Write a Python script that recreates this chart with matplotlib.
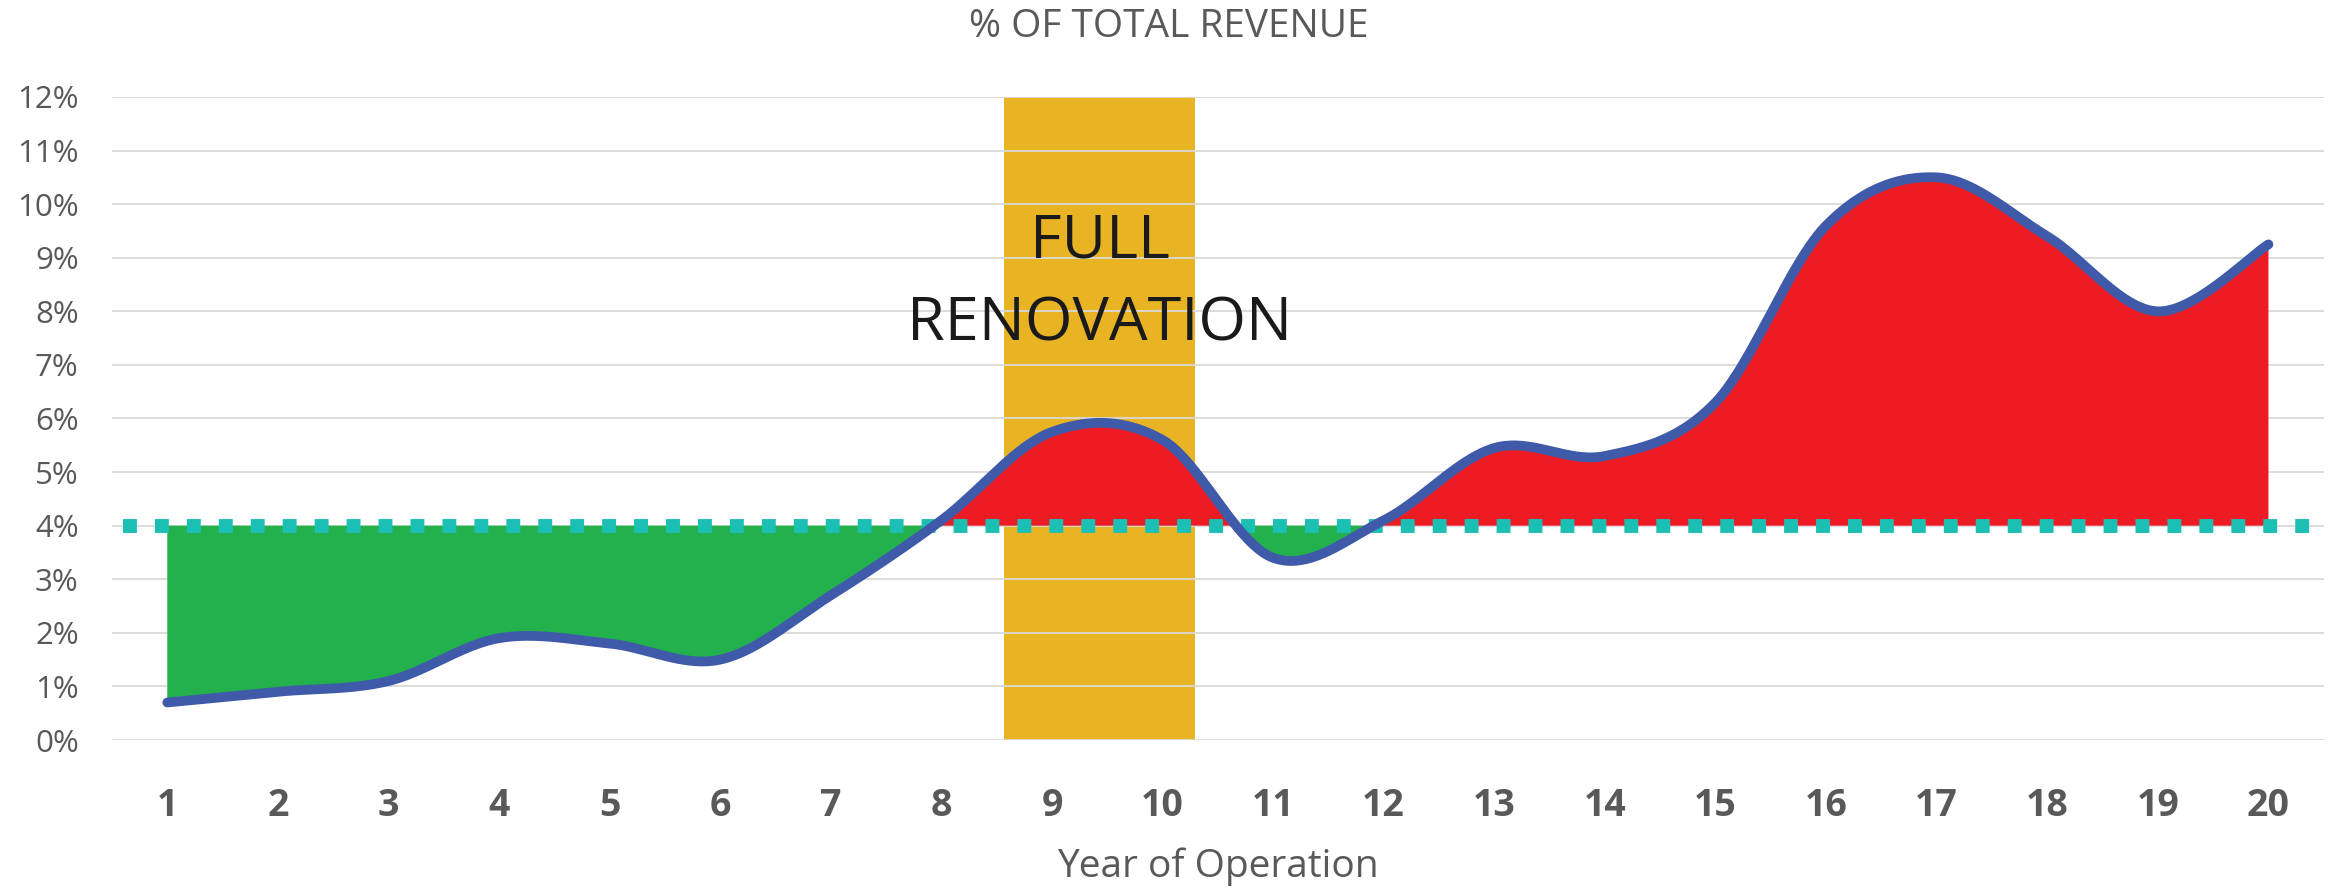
import numpy as np
import matplotlib
matplotlib.use("Agg")
import matplotlib.pyplot as plt
from matplotlib.ticker import PercentFormatter

# data (% of total revenue per year)
years = list(range(1, 21))
revenue_pct = [0.7, 0.9, 1.1, 1.9, 1.8, 1.5, 2.7, 4.1, 5.75, 5.6,
               3.4, 4.1, 5.45, 5.3, 6.3, 9.6, 10.5, 9.4, 8.0, 9.25]
target_pct = 4.0
renovation_span = (8.57, 10.29)
ytick_vals = list(range(0, 13))

tick_font = ["Liberation Sans Narrow", "Open Sans", "DejaVu Sans"]
gray = "#595959"


def smooth(x, y, n=40):
    # catmull-rom, like excel's "smoothed line"
    x = np.asarray(x, float)
    y = np.asarray(y, float)
    px = np.concatenate([[x[0]], x, [x[-1]]])
    py = np.concatenate([[y[0]], y, [y[-1]]])
    xs, ys = [], []
    t = np.linspace(0, 1, n, endpoint=False)
    for i in range(1, len(px) - 2):
        for arr, out in ((px, xs), (py, ys)):
            p0, p1, p2, p3 = arr[i - 1], arr[i], arr[i + 1], arr[i + 2]
            out.extend(0.5 * (2 * p1 + (-p0 + p2) * t
                              + (2 * p0 - 5 * p1 + 4 * p2 - p3) * t ** 2
                              + (-p0 + 3 * p1 - 3 * p2 + p3) * t ** 3))
    xs.append(x[-1])
    ys.append(y[-1])
    return np.array(xs), np.array(ys)


fig = plt.figure(figsize=(23.38, 8.89), dpi=100)
ax = fig.add_axes([0.0479, 0.1676, 0.946, 0.7233])

xs, ys = smooth(years, revenue_pct)

ax.axvspan(*renovation_span, color="#E9B424", zorder=0.5, lw=0)
for v in ytick_vals:
    ax.axhline(v, color="#D9D9D9", lw=1.3, zorder=1)

ax.fill_between(xs, ys, target_pct, where=ys <= target_pct, interpolate=True,
                color="#22B14C", lw=0, zorder=2)
ax.fill_between(xs, ys, target_pct, where=ys >= target_pct, interpolate=True,
                color="#ED1C24", lw=0, zorder=2)

ax.plot([0.6, 20.6], [target_pct, target_pct], color="#1CBFB4", lw=10,
        dashes=(1.0, 1.3), solid_capstyle="butt", dash_capstyle="butt", zorder=3)
ax.plot(xs, ys, color="#3F5AA8", lw=7, solid_capstyle="round", zorder=4)

xc = sum(renovation_span) / 2
ax.text(xc, 9.3, "FULL", ha="center", va="center", fontsize=44,
        family=["Open Sans", "DejaVu Sans"], color="#1a1a1a", zorder=5)
ax.text(xc, 7.75, "RENOVATION", ha="center", va="center", fontsize=44,
        family=["Open Sans", "DejaVu Sans"], color="#1a1a1a", zorder=5)

ax.set_xlim(0.5, 20.5)
ax.set_ylim(0, 12)
ax.set_xticks(years)
ax.set_yticks(ytick_vals)
ax.yaxis.set_major_formatter(PercentFormatter(decimals=0))
for s in ax.spines.values():
    s.set_visible(False)
ax.tick_params(length=0)
ax.tick_params(axis="y", pad=24, labelsize=22.5, labelcolor=gray)
ax.tick_params(axis="x", pad=34, labelsize=27, labelcolor=gray)
for lab in ax.get_yticklabels():
    lab.set_family(tick_font)
for lab in ax.get_xticklabels():
    lab.set_family(tick_font)
    lab.set_fontweight("bold")

ax.set_xlabel("Year of Operation", fontsize=28, color=gray, family=tick_font, labelpad=16)
fig.text(0.5, 0.97, "% OF TOTAL REVENUE", ha="center", va="center", fontsize=28,
         color=gray, family=tick_font)

fig.savefig("out.png", dpi=100)
